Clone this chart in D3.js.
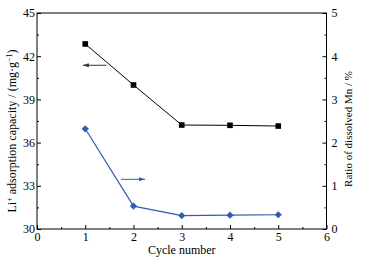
<!DOCTYPE html>
<html><head><meta charset="utf-8">
<script src="https://cdn.jsdelivr.net/npm/d3@7"></script>
<style>body{margin:0;background:#fff}svg{display:block}text{font-family:"Liberation Serif","Times New Roman",serif}</style>
</head><body>
<svg id="c" width="365" height="260"></svg>
<script>
const cycles = [1, 2, 3, 4, 5];
const capacity = [42.85, 40.0, 37.22, 37.2, 37.15];
const mnRatio = [2.32, 0.53, 0.31, 0.32, 0.33];
const xTicks = [0, 1, 2, 3, 4, 5, 6];
const yLeftTicks = [30, 33, 36, 39, 42, 45];
const yRightTicks = [0, 1, 2, 3, 4, 5];

const svg = d3.select("#c");
const m = {l: 37, r: 326.5, t: 13, b: 229};
const x = d3.scaleLinear().domain([0, 6]).range([m.l, m.r]);
const yL = d3.scaleLinear().domain([30, 45]).range([m.b, m.t]);
const yR = d3.scaleLinear().domain([0, 5]).range([m.b, m.t]);
const blue = "#2f5cb3";

svg.append("rect").attr("x", m.l).attr("y", m.t).attr("width", m.r - m.l).attr("height", m.b - m.t)
  .attr("fill", "none").attr("stroke", "#000").attr("stroke-width", 1);

function styleAxis(g){ g.select(".domain").remove(); g.selectAll("text").attr("font-size", 12).attr("fill", "#000"); g.selectAll("line").attr("stroke", "#000"); }

svg.append("g").attr("transform", `translate(0,${m.b})`)
  .call(d3.axisBottom(x).tickValues(xTicks).tickFormat(d3.format("d")).tickSize(-4).tickPadding(3)).call(styleAxis);
svg.append("g").attr("transform", `translate(0,${m.b})`)
  .call(d3.axisBottom(x).tickValues(d3.range(0.5, 6, 1)).tickFormat("").tickSize(-2)).call(styleAxis);
svg.append("g").attr("transform", `translate(${m.l},0)`)
  .call(d3.axisLeft(yL).tickValues(yLeftTicks).tickFormat(d3.format("d")).tickSize(-4).tickPadding(2)).call(styleAxis);
svg.append("g").attr("transform", `translate(${m.l},0)`)
  .call(d3.axisLeft(yL).tickValues(d3.range(31.5, 45, 3)).tickFormat("").tickSize(-2)).call(styleAxis);
svg.append("g").attr("transform", `translate(${m.r},0)`)
  .call(d3.axisRight(yR).tickValues(yRightTicks).tickFormat(d3.format("d")).tickSize(-4).tickPadding(5)).call(styleAxis);
svg.append("g").attr("transform", `translate(${m.r},0)`)
  .call(d3.axisRight(yR).tickValues(d3.range(0.5, 5, 1)).tickFormat("").tickSize(-2)).call(styleAxis);

const lineL = d3.line().x((d, i) => x(cycles[i])).y(d => yL(d));
const lineR = d3.line().x((d, i) => x(cycles[i])).y(d => yR(d));
svg.append("path").attr("d", lineL(capacity)).attr("fill", "none").attr("stroke", "#000").attr("stroke-width", 1);
svg.append("path").attr("d", lineR(mnRatio)).attr("fill", "none").attr("stroke", blue).attr("stroke-width", 1.2);
svg.selectAll(".sq").data(capacity).enter().append("rect")
  .attr("x", (d, i) => x(cycles[i]) - 2.8).attr("y", d => yL(d) - 2.8).attr("width", 5.6).attr("height", 5.6).attr("fill", "#000");
svg.selectAll(".dm").data(mnRatio).enter().append("path")
  .attr("transform", (d, i) => `translate(${x(cycles[i])},${yR(d)}) rotate(45)`)
  .attr("d", d3.symbol(d3.symbolSquare, 26)()).attr("fill", blue);

function arrow(x1, x2, y, color){
  svg.append("line").attr("x1", x1).attr("x2", x2).attr("y1", y).attr("y2", y).attr("stroke", color).attr("stroke-width", 1);
  const dir = x2 > x1 ? 1 : -1;
  svg.append("path").attr("d", `M${x2},${y} L${x2 - dir * 6},${y - 2} L${x2 - dir * 6},${y + 2} Z`).attr("fill", color);
}
arrow(x(1.44), x(0.95), yL(41.37), "#333");
arrow(x(1.74), x(2.24), yR(1.15), blue);

svg.append("text").attr("x", x(3)).attr("y", 254).attr("text-anchor", "middle").attr("font-size", 12).text("Cycle number");
const lt = svg.append("text").attr("transform", `translate(16,131) rotate(-90)`)
  .attr("text-anchor", "middle").attr("font-size", 12);
lt.append("tspan").text("Li");
lt.append("tspan").attr("font-size", 8).attr("dy", -4.5).text("+");
lt.append("tspan").attr("dy", 4.5).text(" adsorption capacity / (mg·g");
lt.append("tspan").attr("font-size", 8).attr("dy", -4.5).text("−1");
lt.append("tspan").attr("dy", 4.5).text(")");
const rt = svg.append("text").attr("transform", `translate(352,129) rotate(-90)`)
  .attr("text-anchor", "middle").attr("font-size", 11).text("Ratio of dissolved Mn / %");
</script>
</body></html>
